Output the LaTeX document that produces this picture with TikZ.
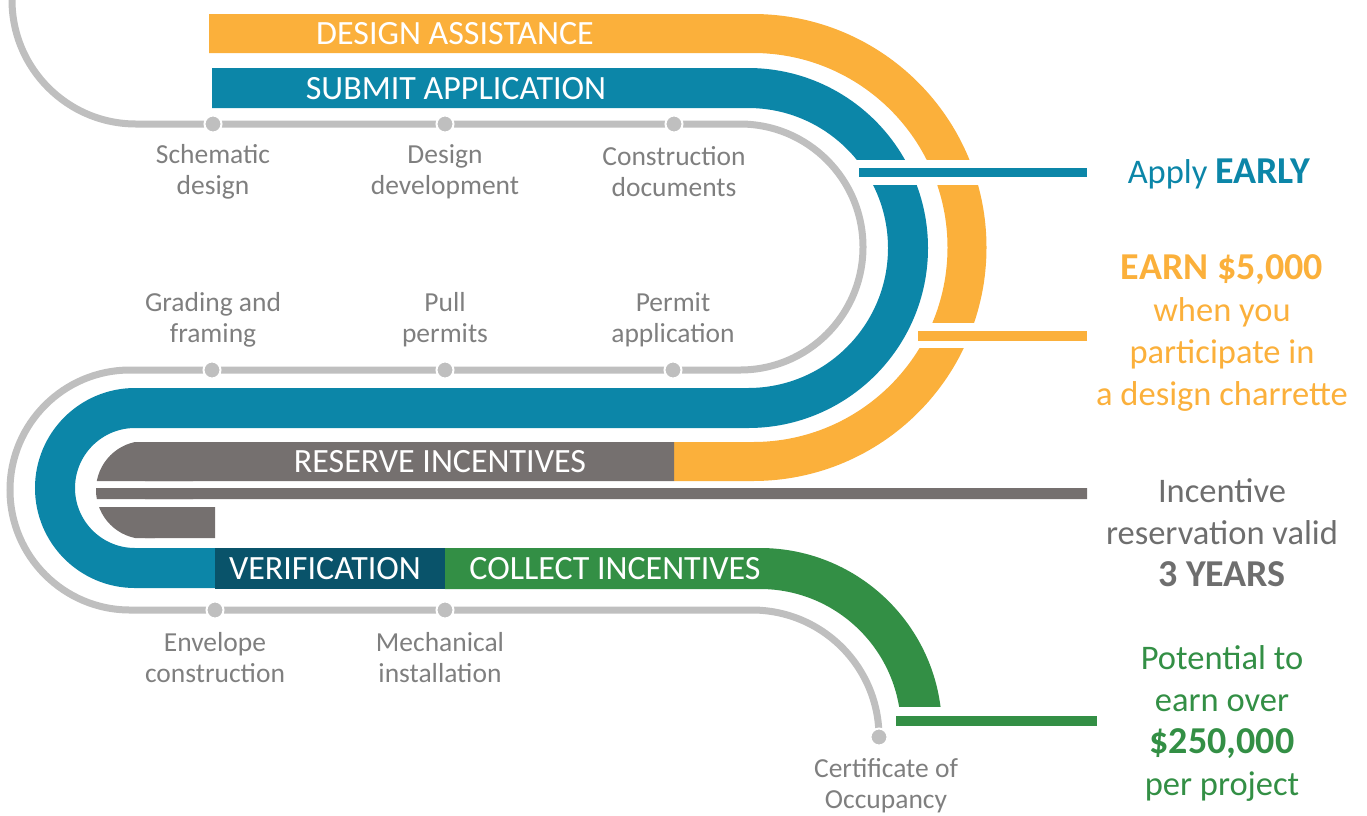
\documentclass[tikz,border=0pt]{standalone}
\usepackage{fontspec}
\setmainfont{Carlito}
\definecolor{cOrange}{HTML}{FBB03B}
\definecolor{cBlue}{HTML}{0C86A8}
\definecolor{cTeal}{HTML}{09536A}
\definecolor{cGreen}{HTML}{338F45}
\definecolor{cDark}{HTML}{75706F}
\definecolor{trackgray}{HTML}{BFBFBF}
\definecolor{labelgray}{HTML}{7F7F7F}
\definecolor{cNote}{HTML}{6E6E6E}
\newcommand\bigb[1]{{\fontsize{38}{42}\selectfont\bfseries #1}}
\begin{document}
\begin{tikzpicture}[x=1pt,y=-1pt,
  track/.style={draw=trackgray, line width=7pt},
  milestone/.style={circle, fill=trackgray, draw=white, line width=2pt, minimum size=17pt, inner sep=0pt},
  lbl/.style={text=labelgray, font=\fontsize{27.5}{31}\selectfont, align=center, inner sep=0pt},
  bandtxt/.style={text=white, font=\fontsize{34}{40}\selectfont, inner sep=0pt},
  note/.style={font=\fontsize{34.5}{42}\selectfont, align=center, inner sep=0pt}]
\useasboundingbox (0,0) rectangle (1367,815);
% orange band
\draw[draw=cOrange, line width=39pt] (209,33.5) -- (753,33.5) arc[start angle=-90,end angle=90,radius=214] -- (674,461.5);
% blue band
\draw[draw=cBlue, line width=40pt] (212,88) -- (748,88) arc[start angle=-90,end angle=90,radius=160] -- (135,408) arc[start angle=-90,end angle=-270,radius=80] -- (215,568);
% verification
\fill[cTeal] (215,548) rectangle (445,589);
% green band
\draw[draw=cGreen, line width=41pt] (445,568.5) -- (760,568.5) arc[start angle=-90,end angle=0,radius=161.5];
% gray reserve region
\begin{scope}
\clip (90,442) rectangle (674,481) (90,488) rectangle (1087,499) (90,507) rectangle (215,538);
\fill[cDark] (145,490) circle[radius=49];
\fill[cDark] (145,440) rectangle (1090,540);
\end{scope}
% white gaps
\fill[white] (851,160) rectangle (1000,185);
\fill[white] (914,323) rectangle (1000,348);
\fill[white] (885,707) rectangle (950,735);
% track
\draw[track] (12,-5) -- (12,0) arc[start angle=180,end angle=90,radius=124] -- (740,124) arc[start angle=-90,end angle=90,radius=123] -- (130,370) arc[start angle=-90,end angle=-270,radius=120] -- (752,610) arc[start angle=-90,end angle=0,radius=127];
% connector lines
\coordinate (eA) at (859,172.5); \coordinate (eB) at (1087,172.5);
\coordinate (oA) at (918,336); \coordinate (oB) at (1087,336);
\coordinate (gA) at (896,721); \coordinate (gB) at (1097,721);
\draw[cBlue, line width=9pt] (eA) -- (eB);
\draw[cOrange, line width=10pt] (oA) -- (oB);
\draw[cGreen, line width=10pt] (gA) -- (gB);
% milestones
\node[milestone] (m1) at (213,124) {};
\node[milestone] (m2) at (445,124) {};
\node[milestone] (m3) at (674,124) {};
\node[milestone] (m4) at (212,370) {};
\node[milestone] (m5) at (445,370) {};
\node[milestone] (m6) at (673,370) {};
\node[milestone] (m7) at (215,610) {};
\node[milestone] (m8) at (445,610) {};
\node[milestone] (m9) at (879,737) {};
% labels
\node[lbl] (l1) at (213,172) {Schematic\\design};
\node[lbl] (l2) at (445,172) {Design\\development};
\node[lbl] (l3) at (674,172) {Construction\\documents};
\node[lbl] (l4) at (213,320) {Grading and\\framing};
\node[lbl] (l5) at (445,320) {Pull\\permits};
\node[lbl] (l6) at (673,320) {Permit\\application};
\node[lbl] (l7) at (215,658) {Envelope\\construction};
\node[lbl] (l8) at (440,658) {Mechanical\\installation};
\node[lbl] (l9) at (886,786) {Certificate of\\Occupancy};
% band texts
\node[bandtxt] (da) at (455,34) {DESIGN ASSISTANCE};
\node[bandtxt] (sa) at (456,89) {SUBMIT APPLICATION};
\node[bandtxt] (ri) at (440,462) {RESERVE INCENTIVES};
\node[bandtxt] (ve) at (325,569) {VERIFICATION};
\node[bandtxt] (ci) at (615,569) {COLLECT INCENTIVES};
% notes
\node[note, text=cBlue] (early) at (1219,174) {Apply \bigb{EARLY}};
\node[note, text=cOrange] (earn) at (1222,333) {\bigb{EARN \$5,000}\\when you\\participate in\\a design charrette};
\node[note, text=cNote] (valid) at (1222,533) {Incentive\\reservation valid\\\bigb{3 YEARS}};
\node[note, text=cGreen] (pot) at (1222,723) {Potential to\\earn over\\\bigb{\$250,000}\\per project};
\end{tikzpicture}
\end{document}
